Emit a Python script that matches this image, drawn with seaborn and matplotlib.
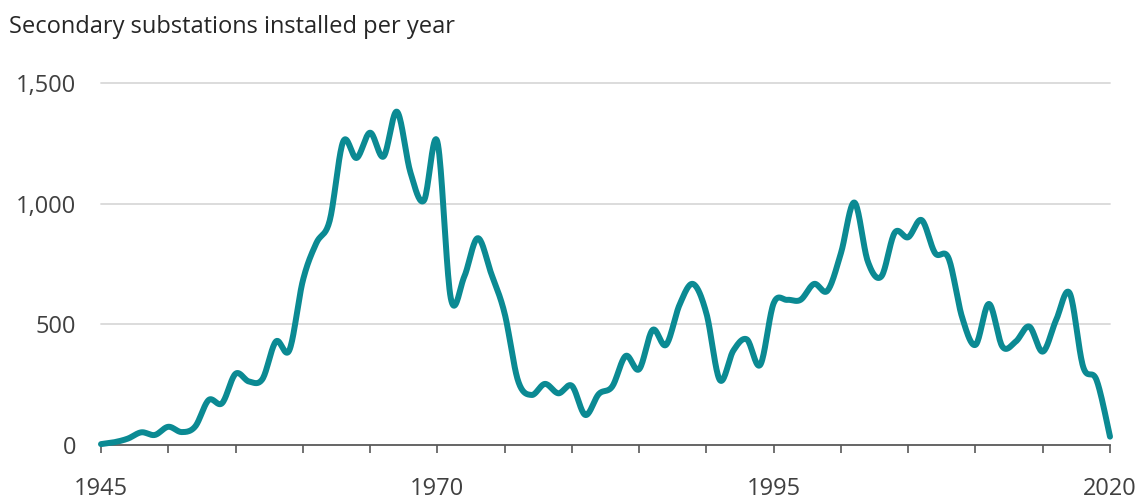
import numpy as np
import pandas as pd
import matplotlib
matplotlib.use("Agg")
import matplotlib.pyplot as plt
import seaborn as sns

years = list(range(1945, 2021))
installed = [
    2, 10, 25, 51, 40, 74, 52, 75, 185, 172,
    294, 262, 272, 428, 392, 680, 836, 930, 1258, 1190,
    1295, 1196, 1382, 1130, 1013, 1258, 608, 697, 857, 711,
    545, 265, 206, 252, 213, 244, 123, 210, 241, 368,
    313, 476, 414, 580, 667, 545, 268, 390, 437, 331,
    587, 601, 601, 667, 639, 795, 1005, 760, 698, 880,
    861, 932, 795, 774, 530, 414, 584, 407, 428, 490,
    386, 518, 629, 324, 268, 33,
]
x_ticks = list(range(1945, 2021, 5))
x_labels = ["1945", "1970", "1995", "2020"]
y_ticks = [0, 500, 1000, 1500]
y_labels = ["0", "500", "1,000", "1,500"]
title = "Secondary substations installed per year"

LINE = "#0B8A93"
TEXT = "#404040"


def catmull_rom(xv, yv, n=20):
    xv = np.asarray(xv, float)
    yv = np.asarray(yv, float)
    px = np.concatenate([[xv[0]], xv, [xv[-1]]])
    py = np.concatenate([[yv[0]], yv, [yv[-1]]])
    t = np.linspace(0, 1, n, endpoint=False)
    ox, oy = [], []
    for i in range(1, len(px) - 2):
        for p, out in ((px, ox), (py, oy)):
            p0, p1, p2, p3 = p[i - 1], p[i], p[i + 1], p[i + 2]
            out.extend(0.5 * (2 * p1 + (-p0 + p2) * t
                              + (2 * p0 - 5 * p1 + 4 * p2 - p3) * t ** 2
                              + (-p0 + 3 * p1 - 3 * p2 + p3) * t ** 3))
    ox.append(xv[-1])
    oy.append(yv[-1])
    return np.array(ox), np.array(oy)


sns.set_theme(style="white")
plt.rcParams["font.family"] = ["Open Sans", "DejaVu Sans"]

sx, sy = catmull_rom(years, installed)
df = pd.DataFrame({"year": sx, "value": sy})

fig = plt.figure(figsize=(11.45, 4.99), dpi=100)
ax = fig.add_axes([101 / 1145, 1 - 444.6 / 499, (1110 - 101) / 1145, (444.6 - 83.3) / 499])

for yv in y_ticks[1:]:
    ax.axhline(yv, color="#D9D9D9", lw=1.3, zorder=1, clip_on=False)

sns.lineplot(data=df, x="year", y="value", ax=ax, color=LINE, lw=4.3,
             sort=False, estimator=None, zorder=3, clip_on=False)
for ln in ax.lines[-1:]:
    ln.set_solid_capstyle("round")
    ln.set_solid_joinstyle("round")

ax.set_xlim(1945, 2020)
ax.set_ylim(0, 1500)
ax.set_xlabel("")
ax.set_ylabel("")
ax.set_xticks(x_ticks)
ax.set_xticklabels([str(y) if str(y) in x_labels else "" for y in x_ticks])
ax.set_yticks(y_ticks)
ax.set_yticklabels(y_labels)

for s in ["top", "right", "left"]:
    ax.spines[s].set_visible(False)
ax.spines["bottom"].set_color("#595959")
ax.spines["bottom"].set_linewidth(1.3)
ax.spines["bottom"].set_zorder(2)

ax.tick_params(axis="x", length=6, width=1.2, color="#595959", pad=17,
               labelsize=17, labelcolor=TEXT, direction="out", bottom=True)
ax.tick_params(axis="y", length=0, pad=18, labelsize=17, labelcolor=TEXT)

fig.text(9 / 1145, 1 - 33 / 499, title, fontsize=17, color="#262626",
         ha="left", va="baseline")

fig.savefig("out.png", dpi=100)
